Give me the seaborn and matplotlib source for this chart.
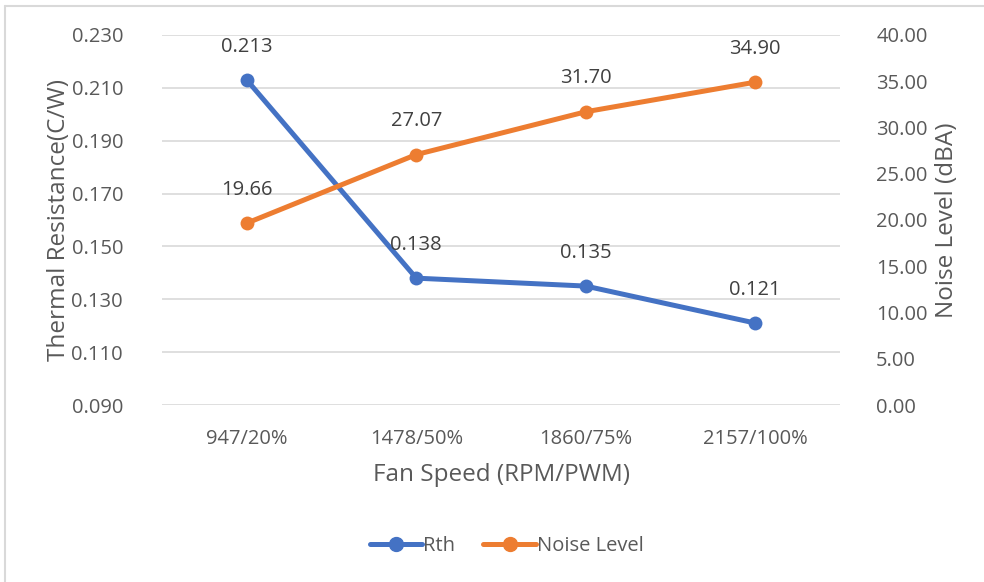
import numpy as np
import pandas as pd
import seaborn as sns
import matplotlib.pyplot as plt
from matplotlib.lines import Line2D

# chart data
fan_speed = ["947/20%", "1478/50%", "1860/75%", "2157/100%"]
rth = [0.213, 0.138, 0.135, 0.121]
noise = [19.66, 27.07, 31.70, 34.90]

sns.set_theme(style="white")
plt.rcParams['font.family'] = ['Open Sans', 'DejaVu Sans']

text_col = "#595959"
blue = "#4472C4"
orange = "#ED7D31"

df = pd.DataFrame({"pos": np.arange(len(fan_speed)), "Rth": rth, "Noise": noise})

fig = plt.figure(figsize=(9.84, 5.82), dpi=100)
ax = fig.add_axes([0.1646, 0.3041, 0.6891, 0.6358])
ax2 = ax.twinx()

sns.lineplot(data=df, x="pos", y="Rth", ax=ax, color=blue, lw=3.6,
             marker="o", markersize=10, markeredgewidth=0, label="Rth", legend=False)
sns.lineplot(data=df, x="pos", y="Noise", ax=ax2, color=orange, lw=3.6,
             marker="o", markersize=10, markeredgewidth=0, label="Noise Level", legend=False)

# axes ranges
ax.set_xlim(-0.5, 3.5)
ax.set_ylim(0.09, 0.23)
ax.set_yticks(np.arange(0.09, 0.2301, 0.02))
ax.set_yticklabels([f"{v:.3f}" for v in np.arange(0.09, 0.2301, 0.02)])
ax2.set_ylim(0, 40)
ax2.set_yticks(np.arange(0, 40.1, 5))
ax2.set_yticklabels([f"{v:.2f}" for v in np.arange(0, 40.1, 5)])
ax.set_xticks(df["pos"])
ax.set_xticklabels(fan_speed)

ax.grid(axis="y", color="#D9D9D9", lw=1.2)
ax.set_axisbelow(True)
for a in (ax, ax2):
    for s in a.spines.values():
        s.set_visible(False)
    a.tick_params(length=0, labelsize=14.5, colors=text_col)
ax.tick_params(axis="y", pad=28)
ax2.tick_params(axis="y", pad=26)
ax.tick_params(axis="x", pad=17)

ax.set_xlabel("Fan Speed (RPM/PWM)", fontsize=17.5, color=text_col, labelpad=10)
ax.set_ylabel("Thermal Resistance(C/W)", fontsize=17.5, color=text_col, labelpad=0)
ax2.set_ylabel("Noise Level (dBA)", fontsize=17.5, color=text_col, labelpad=5)

# data labels
for i, v in enumerate(rth):
    ax.annotate(f"{v:.3f}", (i, v), xytext=(0, 24), textcoords="offset points",
                ha="center", va="center", fontsize=14.5, color="#404040")
for i, v in enumerate(noise):
    ax2.annotate(f"{v:.2f}", (i, v), xytext=(0, 24), textcoords="offset points",
                 ha="center", va="center", fontsize=14.5, color="#404040")

handles = [Line2D([], [], color=blue, lw=3.6, marker="o", markersize=10),
           Line2D([], [], color=orange, lw=3.6, marker="o", markersize=10)]
fig.legend(handles, ["Rth", "Noise Level"], loc="center", bbox_to_anchor=(0.515, 0.062),
           ncol=2, frameon=False, fontsize=14.5, handlelength=2.6, handletextpad=0.05,
           columnspacing=1.4, labelcolor=text_col)

# chart area border (top and left visible)
fig.add_artist(Line2D([5 / 984, 5 / 984], [0, 1 - 6 / 582], color="#D9D9D9", lw=1.5))
fig.add_artist(Line2D([5 / 984, 1], [1 - 6 / 582, 1 - 6 / 582], color="#D9D9D9", lw=1.5))

fig.savefig("out.png", dpi=100)
